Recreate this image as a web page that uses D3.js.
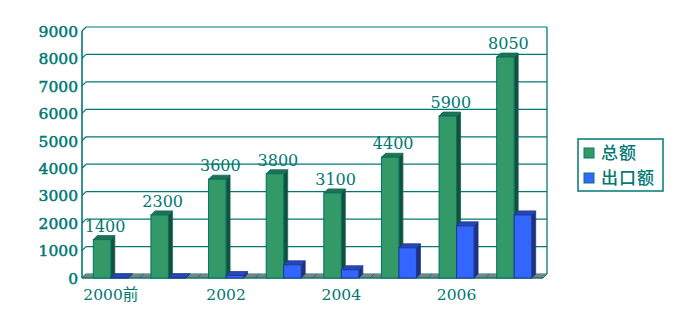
<!DOCTYPE html>
<html><head><meta charset="utf-8">
<script src="https://cdn.jsdelivr.net/npm/d3@7/dist/d3.min.js"></script>
<style>body{margin:0;background:#fff;}svg{display:block;}</style>
</head><body>
<svg id="c" width="674" height="331"></svg>
<script>
const categories = ["2000前","2001","2002","2003","2004","2005","2006","2007"];
const tickLabels = ["2000前","","2002","","2004","","2006",""];
const seriesNames = ["总额","出口额"];
const totalValues = [1400, 2300, 3600, 3800, 3100, 4400, 5900, 8050];
const exportValues = [10, 10, 90, 480, 300, 1100, 1900, 2300];
const yTicks = [0,1000,2000,3000,4000,5000,6000,7000,8000,9000];

const teal = "#007873";
const colors = {
  "总额": {front:"#339966", side:"#1b4d36", top:"#23704b", stroke:"#00706a"},
  "出口额": {front:"#3366ff", side:"#1f327f", top:"#2547bd", stroke:"#1d3a8c"}
};
const D = 4; // depth offset

const svg = d3.select("#c");
const x = d3.scaleBand().domain(categories).range([82, 543]).padding(0);
const bw = x.bandwidth();
const x1 = d3.scaleBand().domain(seriesNames).range([bw/2 - 17.5, bw/2 + 17.5]).padding(0);
const y = d3.scaleLinear().domain([0, 9000]).range([278, 31]);

// gridlines on back wall
const g = svg.append("g");
yTicks.forEach(t => {
  g.append("line").attr("x1", 82 + D).attr("x2", 547).attr("y1", y(t) - D).attr("y2", y(t) - D)
    .attr("stroke", teal).attr("stroke-width", 1.2);
  g.append("line").attr("x1", 82).attr("x2", 82 + D).attr("y1", y(t)).attr("y2", y(t) - D)
    .attr("stroke", teal).attr("stroke-width", 1.2);
});
// right wall edge
g.append("line").attr("x1", 547).attr("x2", 547).attr("y1", y(9000) - D).attr("y2", y(0) - D)
  .attr("stroke", teal).attr("stroke-width", 1.3);

// floor
g.append("path")
  .attr("d", `M82,${y(0)} L${82+D},${y(0)-D} L547,${y(0)-D} L543,${y(0)} Z`)
  .attr("fill", "#808080").attr("stroke", "none");
categories.forEach((c, i) => {
  if (i === 0) return;
  const xx = x(c);
  g.append("line").attr("x1", xx).attr("x2", xx + D).attr("y1", y(0)).attr("y2", y(0) - D)
    .attr("stroke", teal).attr("stroke-width", 1);
});
g.append("line").attr("x1", 82).attr("x2", 543).attr("y1", y(0)).attr("y2", y(0))
  .attr("stroke", teal).attr("stroke-width", 1.5);
g.append("line").attr("x1", 543).attr("x2", 547).attr("y1", y(0)).attr("y2", y(0) - D)
  .attr("stroke", teal).attr("stroke-width", 1);
// front axis
g.append("line").attr("x1", 82).attr("x2", 82).attr("y1", y(9000)).attr("y2", y(0))
  .attr("stroke", teal).attr("stroke-width", 1.6);

// y labels
svg.append("g").selectAll("text").data(yTicks).join("text")
  .attr("x", 78).attr("y", d => y(d)).attr("dy", "0.37em")
  .attr("text-anchor", "end")
  .attr("font-family", "DejaVu Serif").attr("font-size", 15.5)
  .attr("stroke", teal).attr("stroke-width", 0.5)
  .attr("fill", teal).text(d => d);

// bars
function bar3d(parent, x0, w, v, col) {
  const yt = y(v), yb = y(0);
  parent.append("path").attr("d", `M${x0+w},${yt} L${x0+w+D},${yt-D} L${x0+w+D},${yb-D} L${x0+w},${yb} Z`)
    .attr("fill", col.side).attr("stroke", col.stroke).attr("stroke-width", 0.8);
  parent.append("path").attr("d", `M${x0},${yt} L${x0+D},${yt-D} L${x0+w+D},${yt-D} L${x0+w},${yt} Z`)
    .attr("fill", col.top).attr("stroke", col.stroke).attr("stroke-width", 0.8);
  parent.append("rect").attr("x", x0).attr("y", yt).attr("width", w).attr("height", yb - yt)
    .attr("fill", col.front).attr("stroke", col.stroke).attr("stroke-width", 1);
}
const bars = svg.append("g");
categories.forEach((c, i) => {
  const gx = x(c);
  bar3d(bars, gx + x1("总额"), x1.bandwidth(), totalValues[i], colors["总额"]);
  bar3d(bars, gx + x1("出口额"), x1.bandwidth(), exportValues[i], colors["出口额"]);
});

// value labels
svg.append("g").selectAll("text").data(categories).join("text")
  .attr("x", (d) => x(d) + x1("总额") + x1.bandwidth()/2 + 3)
  .attr("y", (d, i) => y(totalValues[i]) - 8)
  .attr("text-anchor", "middle")
  .attr("font-family", "DejaVu Serif").attr("font-size", 16)
  .attr("fill", teal).text((d, i) => totalValues[i]);

// x labels
svg.append("g").selectAll("text").data(categories).join("text")
  .attr("x", d => x(d) + bw/2)
  .attr("y", 300)
  .attr("text-anchor", "middle")
  .attr("font-family", "DejaVu Serif, Noto Sans CJK SC").attr("font-size", 15.5)
  .attr("fill", teal).text((d, i) => tickLabels[i]);

// legend
const lg = svg.append("g");
lg.append("rect").attr("x", 578).attr("y", 139).attr("width", 85).attr("height", 52)
  .attr("fill", "#fff").attr("stroke", teal).attr("stroke-width", 1.5);
seriesNames.forEach((s, i) => {
  const yy = 153 + i * 25;
  lg.append("rect").attr("x", 584).attr("y", yy - 5).attr("width", 10).attr("height", 10)
    .attr("fill", colors[s].front).attr("stroke", teal).attr("stroke-width", 1);
  lg.append("text").attr("x", 601).attr("y", yy).attr("dy", "0.36em")
    .attr("font-family", "Noto Sans CJK SC").attr("font-size", 17).attr("font-weight", 500)
    .attr("letter-spacing", 1)
    .attr("fill", teal).text(s);
});
</script>
</body></html>
